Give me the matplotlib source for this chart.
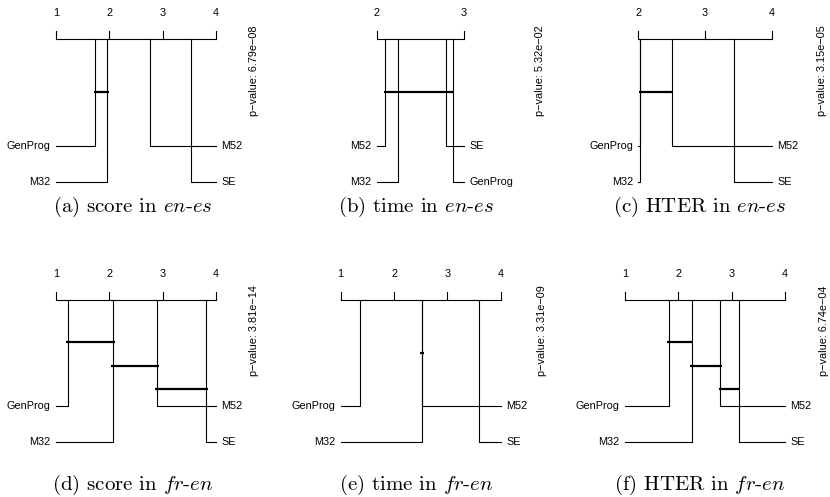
"""
Critical difference diagrams (Nemenyi-style) for score / time / HTER in en-es and fr-en
"""
import math
import matplotlib.pyplot as plt

plt.rcParams['font.family'] = ['Liberation Sans', 'DejaVu Sans']
plt.rcParams['mathtext.fontset'] = 'cm'

# average ranks, same order as methods
methods = ['GenProg', 'M32', 'M52', 'SE']
rank_score_enes = [1.74, 1.96, 2.76, 3.54]
rank_time_enes = [2.87, 2.24, 2.10, 2.79]
rank_hter_enes = [2.03, 2.03, 2.50, 3.44]
rank_score_fren = [1.23, 2.07, 2.89, 3.81]
rank_time_fren = [1.37, 2.52, 2.52, 3.59]
rank_hter_fren = [1.83, 2.25, 2.79, 3.13]

# groups with no significant difference
cliques_score_enes = [['GenProg', 'M32']]
cliques_time_enes = [['M52', 'M32', 'SE', 'GenProg']]
cliques_hter_enes = [['GenProg', 'M32', 'M52']]
cliques_score_fren = [['GenProg', 'M32'], ['M32', 'M52'], ['M52', 'SE']]
cliques_time_fren = [['M32', 'M52']]
cliques_hter_fren = [['GenProg', 'M32'], ['M32', 'M52'], ['M52', 'SE']]

pvalues = ['6.79e\u221208', '5.32e\u221202', '3.15e\u221205',
           '3.81e\u221214', '3.31e\u221209', '6.74e\u221204']
captions = [r'(a) score in $\mathit{en}$-$\mathit{es}$',
            r'(b) time in $\mathit{en}$-$\mathit{es}$',
            r'(c) HTER in $\mathit{en}$-$\mathit{es}$',
            r'(d) score in $\mathit{fr}$-$\mathit{en}$',
            r'(e) time in $\mathit{fr}$-$\mathit{en}$',
            r'(f) HTER in $\mathit{fr}$-$\mathit{en}$']

all_ranks = [rank_score_enes, rank_time_enes, rank_hter_enes,
             rank_score_fren, rank_time_fren, rank_hter_fren]
all_cliques = [cliques_score_enes, cliques_time_enes, cliques_hter_enes,
               cliques_score_fren, cliques_time_fren, cliques_hter_fren]

# layout in pixels
W, H = 830, 497
axis_left = [56, 376.7, 638.3, 56, 340.7, 625]
axis_width = [160, 87.3, 133.4, 160, 160, 160]
axis_y = [39.3, 39.3, 39.3, 300, 300, 300]
pval_x = [254, 540, 821.7, 254, 541.7, 824]
cap_x = [133, 416, 700, 133, 416, 700]
cap_y = [207, 207, 207, 485, 485, 485]
ROWS = [106.4, 142.4]
CLIQUE_Y = {1: [53], 3: [41.7, 65.7, 89]}
FS = 7.8


def draw_cd(ax, ranks, cliques, px_w):
    lo = math.floor(min(ranks))
    hi = math.ceil(max(ranks))
    ax.set_xlim(lo, hi)
    ax.set_ylim(ROWS[-1], 0)
    ax.axis('off')
    kw = dict(color='black', lw=0.8, clip_on=False)

    ax.plot([lo, hi], [0, 0], **kw)
    for t in range(lo, hi + 1):
        ax.plot([t, t], [-8, 0], **kw)
        ax.text(t, -26, str(t), ha='center', va='center', fontsize=FS)

    order = sorted(range(len(ranks)), key=lambda i: ranks[i])
    half = len(order) // 2
    for k, i in enumerate(order):
        r = ranks[i]
        if k < half:
            row = ROWS[k]
            ax.plot([r, r, lo], [0, row, row], **kw)
            ax.annotate(methods[i], (lo, row), xytext=(-3.8, 0),
                        textcoords='offset points', ha='right', va='center',
                        fontsize=FS)
        else:
            row = ROWS[k - half]
            ax.plot([r, r, hi], [0, row, row], **kw)
            ax.annotate(methods[i], (hi, row), xytext=(3.8, 0),
                        textcoords='offset points', ha='left', va='center',
                        fontsize=FS)

    d = 1.8 * (hi - lo) / px_w
    for c, y in zip(cliques, CLIQUE_Y[len(cliques)]):
        rs = [ranks[methods.index(m)] for m in c]
        ax.plot([min(rs) - d, max(rs) + d], [y, y], color='black', lw=1.6,
                clip_on=False, solid_capstyle='butt')


fig = plt.figure(figsize=(W / 100, H / 100), dpi=100)

for p in range(6):
    rect = [axis_left[p] / W, 1 - (axis_y[p] + ROWS[-1]) / H,
            axis_width[p] / W, ROWS[-1] / H]
    ax = fig.add_axes(rect)
    draw_cd(ax, all_ranks[p], all_cliques[p], axis_width[p])
    fig.text(pval_x[p] / W, 1 - (axis_y[p] + 31) / H,
             'p\u2212value: ' + pvalues[p], rotation=90,
             ha='center', va='center', fontsize=FS)
    fig.text(cap_x[p] / W, 1 - cap_y[p] / H, captions[p],
             ha='center', va='center', fontsize=15, family='cmr10')

plt.savefig('out.png', dpi=100, facecolor='white')
